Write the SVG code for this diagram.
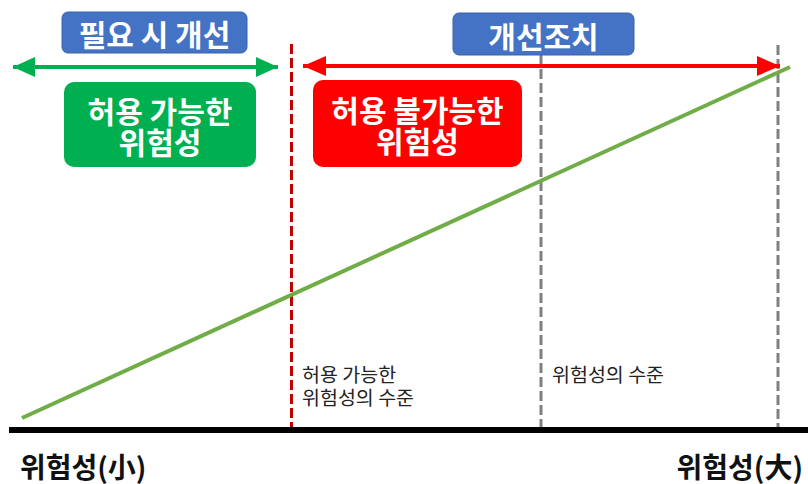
<svg xmlns="http://www.w3.org/2000/svg" width="808" height="484" viewBox="0 0 808 484">
<style>
text{font-family:"Noto Sans CJK KR","Noto Sans",sans-serif;dominant-baseline:central}
.big{font-size:30px;font-weight:bold;fill:#fff;text-anchor:middle}
.small{font-size:19.5px;fill:#222}
.axislabel{font-size:28px;font-weight:bold;fill:#111}
.blue{fill:#4472C4;stroke:#3A62AA;stroke-width:1}
</style>
<defs>
<marker id="gh" markerUnits="userSpaceOnUse" markerWidth="24" markerHeight="22" refX="22" refY="11" orient="auto-start-reverse">
<path d="M0,1 L22,11 L0,21 Z" fill="#00B050"/>
</marker>
<marker id="rh" markerUnits="userSpaceOnUse" markerWidth="24" markerHeight="22" refX="23" refY="11" orient="auto-start-reverse">
<path d="M0,1 L23,11 L0,21 Z" fill="#FF0000"/>
</marker>
</defs>
<rect width="808" height="484" fill="#fff"/>
<g id="connectors">
<line x1="291.5" y1="44" x2="291.5" y2="430" stroke="#C00000" stroke-width="3" stroke-dasharray="10,4"/>
<line x1="541" y1="55" x2="541" y2="430" stroke="#808080" stroke-width="3" stroke-dasharray="10,4"/>
<line x1="778" y1="45" x2="778" y2="430" stroke="#808080" stroke-width="3" stroke-dasharray="10,4"/>
<line x1="22" y1="418" x2="790" y2="67" stroke="#70AD47" stroke-width="4"/>
<line x1="13" y1="67" x2="278" y2="67" stroke="#00B050" stroke-width="4" marker-start="url(#gh)" marker-end="url(#gh)"/>
<line x1="303" y1="66" x2="780" y2="66" stroke="#FF0000" stroke-width="4" marker-start="url(#rh)" marker-end="url(#rh)"/>
<line x1="9" y1="430" x2="808" y2="430" stroke="#000" stroke-width="6"/>
</g>
<g id="label-needed">
<rect class="blue" x="62" y="12" width="185" height="41" rx="6"/>
<text class="big" x="154.5" y="32.5">필요 시 개선</text>
</g>
<g id="label-action">
<rect class="blue" x="453" y="13" width="181" height="42" rx="6"/>
<text class="big" x="543.5" y="35">개선조치</text>
</g>
<g id="box-acceptable">
<rect x="64" y="82" width="192" height="85" rx="10" fill="#00B050"/>
<text class="big" x="160" y="110">허용 가능한<tspan x="160" dy="31">위험성</tspan></text>
</g>
<g id="box-unacceptable">
<rect x="313" y="80" width="209" height="87" rx="10" fill="#FF0000"/>
<text class="big" x="417.5" y="109">허용 불가능한<tspan x="417.5" dy="30.5">위험성</tspan></text>
</g>
<g id="text-acceptable-level">
<text class="small" x="302" y="373.5">허용 가능한<tspan x="302" dy="22.5">위험성의 수준</tspan></text>
</g>
<g id="text-risk-level">
<text class="small" x="552" y="373.5">위험성의 수준</text>
</g>
<g id="axis-labels">
<text class="axislabel" x="20" y="466">위험성(小)</text>
<text class="axislabel" x="803" y="466" text-anchor="end">위험성(大)</text>
</g>
</svg>
